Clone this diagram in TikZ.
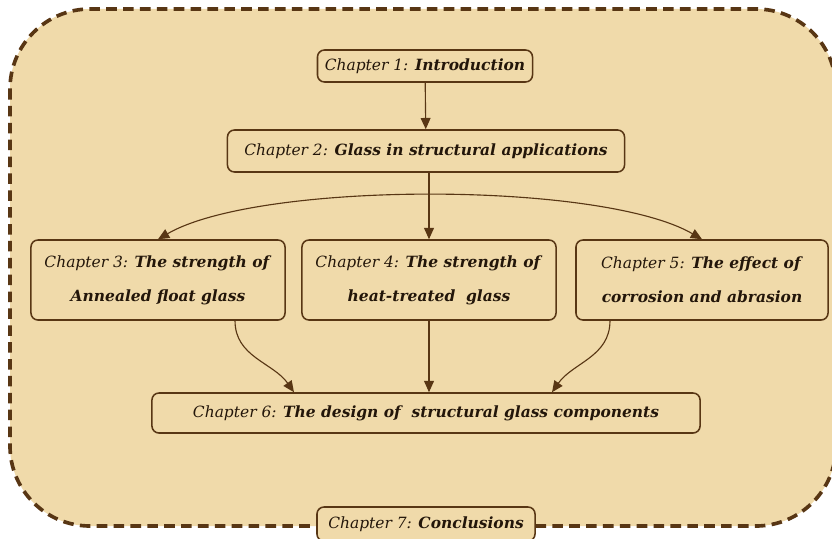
\documentclass[tikz,border=0pt]{standalone}
\usepackage{fontspec}
\setmainfont{DejaVu Serif}
\usepackage{tikz}
\usetikzlibrary{arrows.meta}

\definecolor{paper}{RGB}{240,218,170}
\definecolor{bark}{RGB}{88,54,20}
\definecolor{ink}{RGB}{35,22,10}

\tikzset{
  >={Triangle[width=7pt,length=8pt]},
  chap/.style={draw=bark, line width=1.1pt, rounded corners=5pt, text=ink,
    align=center, font=\fontsize{11}{24}\selectfont, inner sep=2pt},
  link/.style={draw=bark, line width=0.8pt, ->}
}
\newcommand{\ch}[2]{\textit{Chapter #1:} \textbf{\textit{#2}}}

\begin{document}
\begin{tikzpicture}[x=0.025cm,y=-0.025cm]
\useasboundingbox (0,0) rectangle (832,538);
\fill[white] (0,0) rectangle (832,538);
\draw[bark, fill=paper, line width=2.6pt, dash pattern=on 7.5pt off 4.5pt, rounded corners=2cm]
   (10,9) rectangle (836,526);

\node[chap, minimum width=5.375cm, minimum height=0.8cm] (c1) at (425,66) {\ch{1}{Introduction}};
\node[chap, minimum width=9.925cm, minimum height=1.05cm] (c2) at (426,151) {\ch{2}{Glass in structural applications}};
\node[chap, minimum width=6.35cm, minimum height=2cm] (c3) at (158,280) {\ch{3}{The strength of}\\\textbf{\textit{Annealed float glass}}};
\node[chap, minimum width=6.35cm, minimum height=2cm] (c4) at (429,280) {\ch{4}{The strength of}\\\textbf{\textit{heat-treated~ glass}}};
\node[chap, minimum width=6.3cm, minimum height=2cm] (c5) at (702,280) {\ch{5}{The effect of}\\\textbf{\textit{corrosion and abrasion}}};
\node[chap, minimum width=13.7cm, minimum height=1cm] (c6) at (426,413) {\ch{6}{The design of~ structural glass components}};
\node[chap, minimum width=5.45cm, minimum height=0.85cm, fill=paper] (c7) at (426,524) {\ch{7}{Conclusions}};

\draw[link] (c1) -- (c2);
\draw[link] (c2.south -| c4) -- (c4);
\draw[link, <->] (c3.north) to[out=30, in=150, looseness=0.55] (c5.north);
\draw[link] (c4) -- (c4 |- c6.north);
\draw[link] ([xshift=1.925cm]c3.south) to[out=-90, in=125] ([xshift=-3.3cm]c6.north);
\draw[link] ([xshift=-2.3cm]c5.south) to[out=-90, in=55] ([xshift=3.15cm]c6.north);
\end{tikzpicture}
\end{document}
